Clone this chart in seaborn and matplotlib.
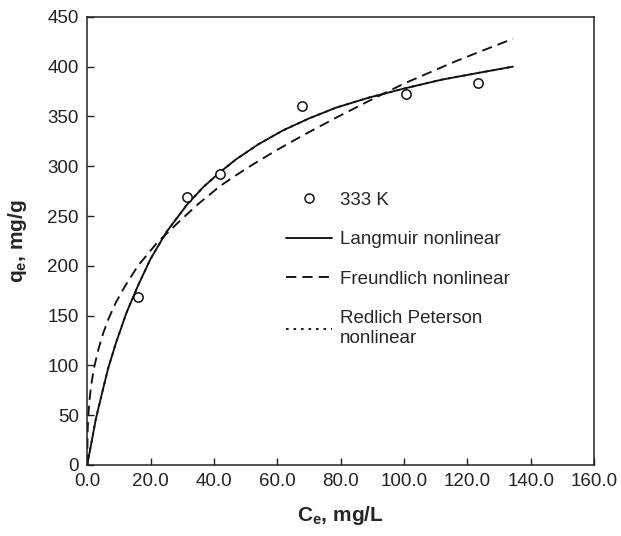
import numpy as np
import pandas as pd
import matplotlib
matplotlib.use("Agg")
import matplotlib.pyplot as plt
from matplotlib.lines import Line2D
import seaborn as sns

# ── Data ──────────────────────────────────────────────────────────────────────
ce_exp = [16.1, 31.4, 41.9, 67.9, 100.5, 123.5]
qe_exp = [169, 269, 292, 361, 373, 384]

ce_lang = [0, 1.0, 2.7, 4.5, 6.6, 9.0, 12.4, 16.0, 20.0, 25.0, 31.4, 36.6,
           41.9, 47.0, 54.0, 61.8, 70.0, 78.7, 89.0, 100.0, 112.0, 123.9, 134.4]
qe_lang = [0, 17, 46, 70, 97, 122, 153, 180, 207, 234, 261, 279,
           294, 307, 322, 336, 348, 359, 369, 378, 387, 394, 400]

ce_freu = [0, 0.1, 0.3, 0.6, 1.2, 2.1, 3.5, 5.0, 6.6, 9.0, 12.0, 16.0, 22.0,
           29.2, 35.0, 41.9, 47.0, 52.4, 59.7, 68.1, 78.7, 89.2, 100.0, 108.0,
           116.0, 123.9, 134.4]
qe_freu = [0, 32, 48, 62, 79, 97, 116, 132, 146, 163, 180, 200, 223,
           245, 262, 280, 291, 302, 316, 331, 349, 366, 383, 394,
           405, 415, 428]

# Redlich-Peterson fit sits on top of the Langmuir curve
ce_rp = list(ce_lang)
qe_rp = [0, 17, 46, 70, 97, 122, 153, 180, 207, 234, 261, 279,
         294, 307, 322, 336, 348, 359, 369, 378, 387, 394, 400]

X_TICKS = [0, 20, 40, 60, 80, 100, 120, 140, 160]
Y_TICKS = [0, 50, 100, 150, 200, 250, 300, 350, 400, 450]

# ── Style ─────────────────────────────────────────────────────────────────────
sns.set_style("ticks")
plt.rcParams.update({
    "font.family": ["Liberation Sans", "DejaVu Sans"],
    "mathtext.fontset": "custom",
    "mathtext.rm": "Liberation Sans",
    "mathtext.bf": "Liberation Sans:bold",
    "axes.edgecolor": "#222222",
    "axes.linewidth": 1.1,
})

DASH = (0, (5.5, 3.2))
DOT = (0, (1.4, 2.6))
LW = 1.35

fig = plt.figure(figsize=(6.21, 5.36), dpi=100)
ax = fig.add_axes([0.1405, 0.1325, 0.816, 0.836])

lang = pd.DataFrame({"Ce": ce_lang, "qe": qe_lang})
freu = pd.DataFrame({"Ce": ce_freu, "qe": qe_freu})
rp = pd.DataFrame({"Ce": ce_rp, "qe": qe_rp})
exp = pd.DataFrame({"Ce": ce_exp, "qe": qe_exp})

sns.lineplot(data=lang, x="Ce", y="qe", ax=ax, color="#111111", lw=LW,
             sort=False, estimator=None)
sns.lineplot(data=freu, x="Ce", y="qe", ax=ax, color="#111111", lw=LW,
             sort=False, estimator=None, linestyle=DASH)
sns.lineplot(data=rp, x="Ce", y="qe", ax=ax, color="#111111", lw=LW,
             sort=False, estimator=None, linestyle=DOT)
sns.scatterplot(data=exp, x="Ce", y="qe", ax=ax, s=45, marker="o",
                facecolor="white", edgecolor="#111111", linewidth=1.1, zorder=5)

ax.set_xlim(0, 160)
ax.set_ylim(0, 450)
ax.set_xticks(X_TICKS)
ax.set_xticklabels([f"{v:.1f}" for v in X_TICKS])
ax.set_yticks(Y_TICKS)
ax.set_yticklabels([str(v) for v in Y_TICKS])
ax.tick_params(direction="in", length=5, width=1, labelsize=13.5,
               colors="#222222", pad=6)
for s in ax.spines.values():
    s.set_visible(True)

ax.set_xlabel(r"$\mathbf{C_e}$, mg/L", fontsize=15, fontweight="bold",
              labelpad=10)
ax.set_ylabel(r"$\mathbf{q_e}$, mg/g", fontsize=15, fontweight="bold",
              labelpad=13)

handles = [
    Line2D([], [], ls="none", marker="o", ms=6.5, mfc="white",
           mec="#111111", mew=1.1),
    Line2D([], [], color="#111111", lw=LW),
    Line2D([], [], color="#111111", lw=LW, ls=DASH),
    Line2D([], [], color="#111111", lw=LW, ls=DOT),
]
labels = ["333 K", "Langmuir nonlinear", "Freundlich nonlinear",
          "Redlich Peterson\nnonlinear"]
ax.legend(handles, labels, loc="upper left", bbox_to_anchor=(0.378, 0.627),
          frameon=False, fontsize=13.5, handlelength=2.45, handletextpad=0.4,
          labelspacing=1.2, borderaxespad=0)

plt.savefig("out.png", dpi=100)
